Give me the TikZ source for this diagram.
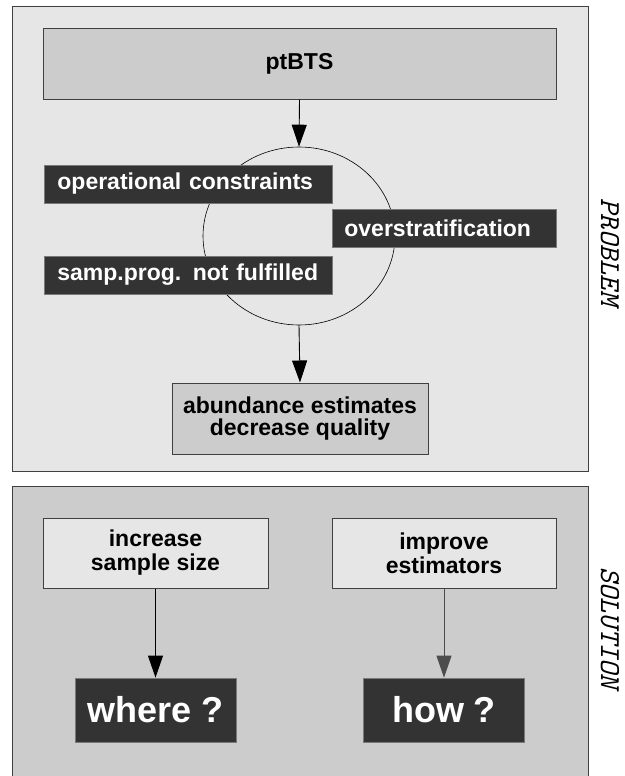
\documentclass[tikz,border=0pt]{standalone}
\usepackage{fontspec}
\setmainfont{Liberation Sans}
\usetikzlibrary{arrows.meta,shapes.geometric}
\definecolor{panelA}{HTML}{E6E6E6}
\definecolor{panelB}{HTML}{CCCCCC}
\definecolor{darkbox}{HTML}{333333}
\definecolor{edge}{HTML}{404040}
\tikzset{
  panel/.style={draw=edge, line width=1pt},
  gbox/.style={draw=edge, line width=1pt, fill=panelB, text=black, font=\fontsize{23}{22}\selectfont\bfseries, align=center, inner sep=0pt},
  lbox/.style={draw=edge, line width=1pt, fill=panelA, text=black, font=\fontsize{23}{24}\selectfont\bfseries, align=center, inner sep=0pt},
  dbox/.style={draw=edge!70, line width=0.8pt, fill=darkbox, text=white, font=\fontsize{23}{23}\selectfont\bfseries, inner sep=0pt},
  bigbox/.style={draw=edge!70, line width=0.8pt, fill=darkbox, text=white, font=\fontsize{36}{36}\selectfont\bfseries, inner sep=0pt},
  side/.style={font=\fontsize{29}{29}\selectfont\ttfamily\itshape, rotate=-90, inner sep=0pt},
  arr/.style={-{Triangle[length=22pt,width=15pt]}, line width=0.9pt, black},
}
\begin{document}
\begin{tikzpicture}[x=1pt,y=-1pt]
\useasboundingbox[fill=white] (0,0) rectangle (624,776);
% panels
\path[panel, fill=panelA] (12,7) rectangle (588,471);
\path[panel, fill=panelB] (12,486) rectangle (588,790);
% top
\node[gbox, minimum width=513pt, minimum height=70pt] (pt) at (299.5,64) {ptBTS};
\node[draw=black, line width=0.6pt, ellipse, minimum width=192pt, minimum height=178pt, inner sep=0pt] (circ) at (299,236) {};
\node[dbox, minimum width=288pt, minimum height=38pt, anchor=west, text width=262pt, align=left] (op) at (44,184) {operational constraints};
\node[dbox, minimum width=224pt, minimum height=38pt, anchor=west, text width=200pt, align=left] (ov) at (332,228) {overstratification};
\node[dbox, minimum width=288pt, minimum height=38pt, anchor=west, text width=262pt, align=left] (sp) at (44,275) {samp.prog. not fulfilled};
\node[gbox, minimum width=256pt, minimum height=71pt] (ab) at (300,418.5) {abundance estimates\\decrease quality};
\draw[arr] (pt.south) -- (circ.north);
\draw[arr] (circ.south) -- (ab.north);
\node[side] (prob) at (610,252) {PROBLEM};
% bottom
\node[lbox, minimum width=225pt, minimum height=70pt] (inc) at (155.5,553) {increase\\sample size};
\node[lbox, minimum width=224pt, minimum height=70pt] (imp) at (444,553) {improve\\estimators};
\node[bigbox, minimum width=161pt, minimum height=64pt] (wh) at (155.5,710) {where ?};
\node[bigbox, minimum width=161pt, minimum height=64pt] (how) at (444,710) {how ?};
\draw[arr] (inc.south) -- (wh.north);
\draw[arr, draw=black!70] (imp.south) -- (how.north);
\node[side] (sol) at (610,628) {SOLUTION};
\end{tikzpicture}
\end{document}
